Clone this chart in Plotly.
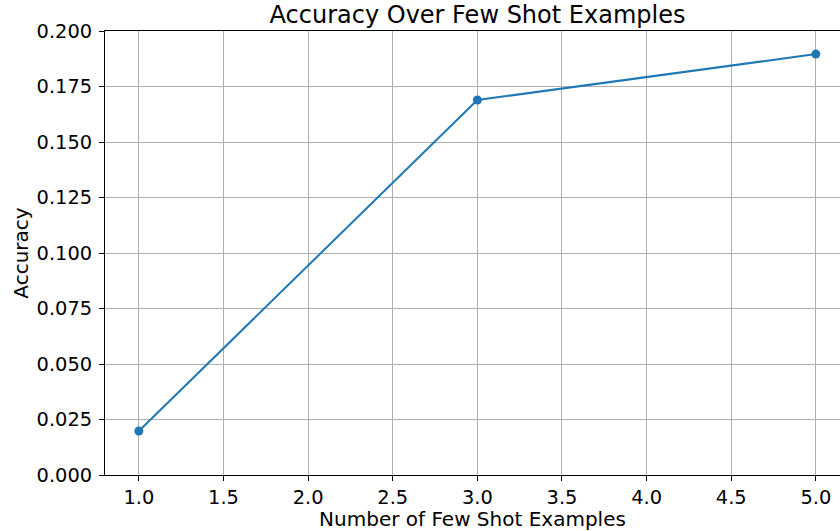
import plotly.graph_objects as go

shots = [1, 3, 5]
accuracy = [0.0198, 0.1689, 0.1896]
x_ticks = [1.0, 1.5, 2.0, 2.5, 3.0, 3.5, 4.0, 4.5, 5.0]
y_ticks = [0.000, 0.025, 0.050, 0.075, 0.100, 0.125, 0.150, 0.175, 0.200]

font = "DejaVu Sans"
fig = go.Figure()
fig.add_trace(go.Scatter(
    x=shots, y=accuracy, mode="lines+markers",
    line=dict(color="#1f77b4", width=2),
    marker=dict(color="#1f77b4", size=9),
    showlegend=False,
))

fig.update_layout(
    width=840, height=531,
    margin=dict(l=105, r=0, t=31, b=56),
    paper_bgcolor="white", plot_bgcolor="white",
    font=dict(family=font, color="black", size=19.4),
    title=dict(text="Accuracy Over Few Shot Examples", x=(105 + 850) / 2 / 840, xanchor="center",
               y=1 - 15 / 531, yanchor="middle", font=dict(size=24, family=font, color="black")),
)
fig.update_xaxes(
    range=[0.8, 0.8 + 735 / 169.25], tickvals=x_ticks, ticktext=[f"{v:.1f}" for v in x_ticks],
    showgrid=True, gridcolor="#b0b0b0", gridwidth=1,
    showline=True, linecolor="black", linewidth=1, mirror=True,
    ticks="outside", ticklen=5, tickcolor="black", tickwidth=1,
    zeroline=False, tickfont=dict(size=19.4),
    title=dict(text="Number of Few Shot Examples", standoff=5, font=dict(size=20)),
)
fig.update_yaxes(
    range=[0, 0.2], tickvals=y_ticks, ticktext=[f"{v:.3f}" for v in y_ticks],
    showgrid=True, gridcolor="#b0b0b0", gridwidth=1,
    showline=True, linecolor="black", linewidth=1, mirror=True,
    ticks="outside", ticklen=5, tickcolor="black", tickwidth=1,
    zeroline=False, tickfont=dict(size=19.4), ticklabelstandoff=3,
    title=dict(text="Accuracy", standoff=2, font=dict(size=20)),
)
fig.write_html("out.html", config={"displayModeBar": False},
               post_script="document.body.style.margin='0';document.body.style.overflow='hidden';")
